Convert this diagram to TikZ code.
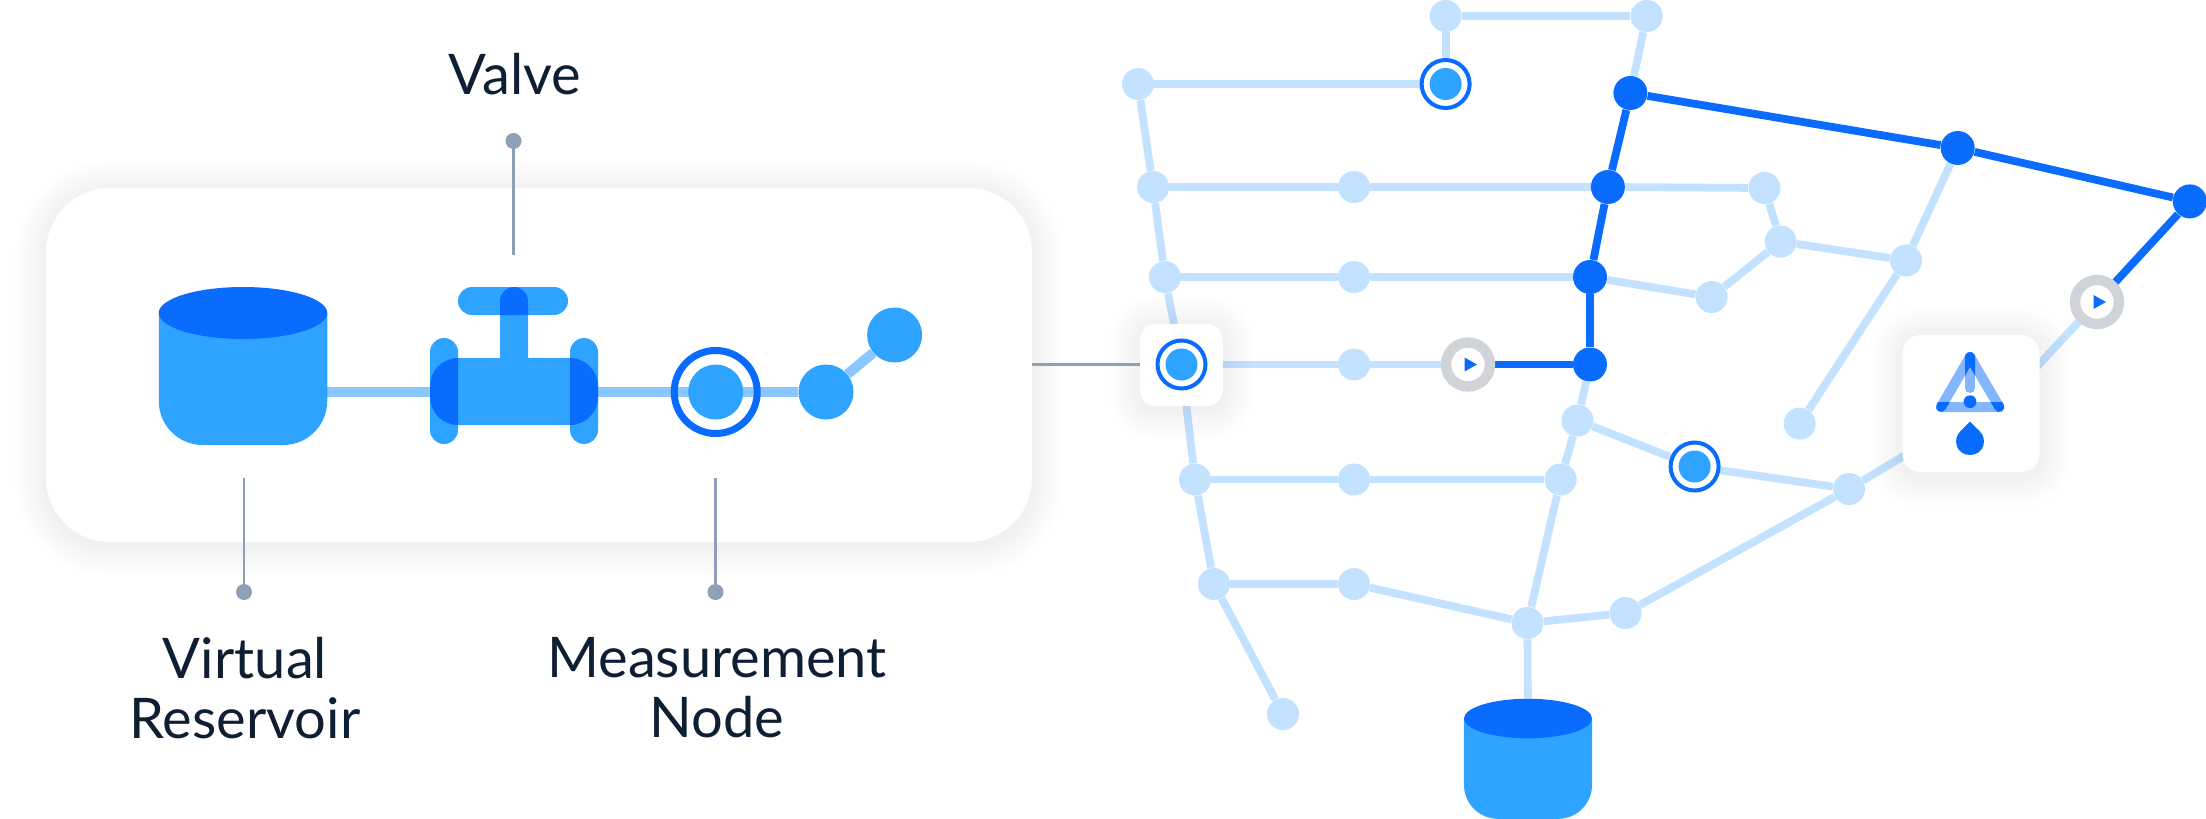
\documentclass[tikz,border=0pt]{standalone}
\usepackage{fontspec}
\setmainfont{Lato}
\usetikzlibrary{backgrounds}
\definecolor{tide}{RGB}{46,163,255}
\definecolor{deep}{RGB}{10,108,255}
\definecolor{mist}{RGB}{194,226,255}
\definecolor{stream}{RGB}{138,198,255}
\definecolor{slate}{RGB}{142,160,181}
\definecolor{ash}{RGB}{208,211,216}
\definecolor{faded}{RGB}{132,181,255}
\definecolor{ink}{RGB}{15,31,51}
\tikzset{
  junction/.style={circle,fill=mist,inner sep=0pt,minimum size=16pt},
  hot/.style={circle,fill=deep,inner sep=0pt,minimum size=17pt},
  gauge/.style={circle,draw=deep,line width=2pt,fill=white,inner sep=0pt,minimum size=24pt,
    path picture={\fill[tide] (path picture bounding box.center) circle (8pt);}},
  play/.style={circle,draw=ash,line width=5.2pt,fill=white,inner sep=0pt,minimum size=22pt,
    path picture={\fill[deep,shift={(path picture bounding box.center)},rotate=#1]
      (-3.5,-7) -- (-3.5,7) -- (9,0) -- cycle;}},
  play/.default=0,
  net/.style={draw=mist,line width=3.9pt},
  hotnet/.style={draw=deep,line width=3.9pt},
  pipe/.style={draw=stream,line width=5pt},
  leader/.style={draw=slate,line width=1.3pt},
  pin/.style={circle,fill=slate,inner sep=0pt,minimum size=8pt},
  tag/.style={font=\fontsize{28}{30}\selectfont,text=ink,align=center},
  card/.style={fill=white,inner sep=0pt},
  warnleg/.style={line width=5pt,line cap=round},
  % pictograms
  pics/tank/.style={code={
    \fill[tide] (-84.25,0) [rounded corners=#1] -- (-84.25,132) -- (84.25,132) [sharp corners] -- (84.25,0) -- cycle;
    \fill[deep] (0,0) ellipse [x radius=84.25,y radius=26];
  }},
}
\newcommand{\softcard}[6]{%
  \foreach \s in {1,...,14}
    \node[fill=black,fill opacity=0.0028,inner sep=0pt,rounded corners=#6pt+\s*1.1pt,
      minimum width={#4+2.2*\s},minimum height={#5+2.2*\s}] (shade#1\s) at (#2,#3+3) {};
  \node[card,rounded corners=#6pt,minimum width=#4,minimum height=#5] (#1) at (#2,#3) {};}
\begin{document}
\begin{tikzpicture}[x=0.5pt,y=-0.5pt]
  \useasboundingbox (0,0) rectangle (2206,819);
  % network
  \foreach \n/\x/\y in {top1/1445.6/16,top2/1646.7/16,left1/1138/84,a1/1153/187,a2/1354/187,
    a3/1764.5/188,b1/1780.7/241.6,b2/1906/260.5,c1/1165/277,c2/1354/277,c3/1711.6/297,
    e2/1354/364.5,f1/1577.5/420.5,f2/1799.7/423.6,g1/1849/489,h1/1195/479.5,h2/1354/479.5,
    h3/1560.6/479.5,i1/1214/584,i2/1354/584,j/1527.5/623,k/1625.5/613,l/1283/714}
    \node[junction] (\n) at (\x,\y) {};
  \foreach \n/\x/\y in {d1/1630.4/93,d2/1957.7/148,d3/2189.8/201.4,d4/1607.9/187,d5/1590/277,d6/1590/364.5}
    \node[hot] (\n) at (\x,\y) {};
  \node[gauge] (m1) at (1445.6,84) {};
  \node[gauge] (m2) at (1694.6,466.5) {};
  \node[gauge] (e1) at (1181.5,364.5) {};
  \node[play] (v1) at (1468,364.5) {};
  \node[play=-6] (v2) at (2097,302) {};
  \coordinate (bend) at (2018,387);
  \coordinate (res2) at (1528,718);
  \pic at (1528,718.5) [scale=0.76] {tank=17pt};
  % warning card
  \draw[faded,warnleg] (1970,357) -- (1941,407) (1970,357) -- (1999.3,407) (1941,407) -- (1999.3,407);
  \draw[faded,warnleg] (1970,357) -- (1970,388);
  \begin{scope}
    \clip (1965,340) rectangle (1975,395);
    \draw[deep,warnleg] (1970,357) -- (1941,407) (1970,357) -- (1999.3,407);
  \end{scope}
  \begin{scope}
    \clip (1925,402) rectangle (2015,415);
    \draw[deep,warnleg] (1970,357) -- (1941,407) (1970,357) -- (1999.3,407);
  \end{scope}
  \node[circle,fill=deep,inner sep=0pt,minimum size=6.4pt] (warndot) at (1970,401.7) {};
  \fill[deep] (1970,421.7) -- (1960.5,431) .. controls (1952,439) and (1956,455) .. (1970,455)
    .. controls (1984,455) and (1988,439) .. (1979.5,431) -- cycle;
  % panel
  \coordinate (res1) at (243,392);
  \pic at (243,313) {tank=22pt};
  \fill[tide,rounded corners=7pt] (500,287) rectangle (528,375);
  \fill[tide,rounded corners=7pt] (458,287) rectangle (568,315);
  \fill[tide,rounded corners=14pt] (430,358) rectangle (598,425);
  \begin{scope}
    \clip[rounded corners=7pt] (500,287) rectangle (528,375);
    \fill[deep,rounded corners=7pt] (458,287) rectangle (568,315);
  \end{scope}
  \foreach \x in {430,570} {
    \fill[tide,rounded corners=7pt] (\x,338) rectangle (\x+28,444);
    \begin{scope}
      \clip[rounded corners=7pt] (\x,338) rectangle (\x+28,444);
      \fill[deep,rounded corners=14pt] (430,358) rectangle (598,425);
    \end{scope}
  }
  \node[circle,draw=deep,line width=3.5pt,inner sep=0pt,minimum size=41.5pt,
    path picture={\fill[tide] (path picture bounding box.center) circle (13.75pt);}] (g) at (715.7,392) {};
  \node[circle,fill=tide,inner sep=0pt,minimum size=27.5pt] (n1) at (826,392) {};
  \node[circle,fill=tide,inner sep=0pt,minimum size=27.5pt] (n2) at (894.6,335) {};
  \node[pin] (pv) at (513.5,141) {};
  \node[pin] (pr) at (244,592) {};
  \node[pin] (pm) at (715.5,592) {};
  \coordinate (ev) at (513.5,255);
  \coordinate (er) at (244,477.5);
  \coordinate (em) at (715.5,477.5);
  \node[tag] (lv) at (515,74) {Valve};
  \node[tag] (lr) at (245,688) {Virtual\\Reservoir};
  \node[tag] (lm) at (717,688) {Measurement\\Node};
  \begin{scope}[on background layer]
    \fill[white] (0,0) rectangle (2206,819);
    \foreach \a/\b in {top1/top2,top1/m1,top2/d1,left1/m1,left1/a1,a1/c1,c1/e1,e1/h1,h1/i1,i1/l,
      a1/a2,a2/d4,d4/a3,a3/b1,b1/b2,b1/c3,c3/d5,b2/d2,b2/f2,c1/c2,c2/d5,e1/e2,e2/v1,
      d6/f1,f1/h3,f1/m2,m2/g1,h1/h2,h2/h3,h3/j,i1/i2,i2/j,j/k,k/g1,j/res2}
      \draw[net] (\a) -- (\b);
    \draw[net] (g1) -- (bend) -- (v2);
    \foreach \a/\b in {d1/d2,d2/d3,d1/d4,d4/d5,d5/d6,d6/v1,d3/v2}
      \draw[hotnet] (\a) -- (\b);
    \softcard{ecard}{1181.4}{365}{41.4}{41}{8}
    \softcard{warn}{1971}{403.5}{68.5}{68.5}{9}
    \softcard{panel}{539}{365}{493}{177}{32}
    \draw[leader] (panel.east |- e1) -- (e1 -| ecard.west);
    \draw[pipe] (res1) -- (n1);
    \draw[pipe] (n1) -- (n2);
    \draw[leader] (pv) -- (ev);
    \draw[leader] (pr) -- (er);
    \draw[leader] (pm) -- (em);
  \end{scope}
\end{tikzpicture}
\end{document}
